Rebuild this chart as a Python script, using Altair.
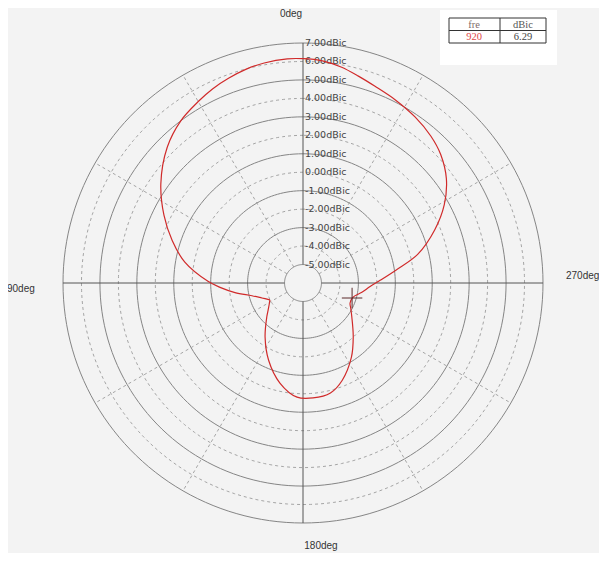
import altair as alt
import numpy as np
import pandas as pd

# ---- data ----
# angle in degrees, 0deg at top, increasing counter-clockwise (90deg on the left)
angles = [0, 4, 10, 15, 20, 25, 30, 37, 45, 55, 64, 72, 80, 89, 93, 98, 104, 110, 117,
          123, 128, 133, 145, 156, 167, 177, 185, 194, 202, 213, 223, 235, 242, 247,
          254, 261, 267, 272, 278, 284, 292, 299, 306, 313, 319, 326, 333, 340, 345,
          350, 355]
gains = [6.15, 6.17, 6.1, 5.98, 5.8, 5.6, 5.35, 5.0, 4.4, 3.4, 2.38, 1.45, 0.5, -0.85,
         -1.5, -2.28, -3.15, -3.63, -3.99, -3.81, -3.6, -3.32, -2.42, -1.42, -0.44, 0.19,
         0.25, 0.14, -0.32, -1.19, -2.01, -2.77, -3.07, -3.23, -3.19, -2.77, -2.36, -1.82,
         -0.9, 0.4, 1.7, 2.75, 3.6, 4.2, 4.55, 4.85, 5.1, 5.35, 5.6, 5.88, 6.08]

levels = [-5, -4, -3, -2, -1, 0, 1, 2, 3, 4, 5, 6, 7]
level_labels = ["-5.00dBic", "-4.00dBic", "-3.00dBic", "-2.00dBic", "-1.00dBic",
                "0.00dBic", "1.00dBic", "2.00dBic", "3.00dBic", "4.00dBic",
                "5.00dBic", "6.00dBic", "7.00dBic"]
spoke_angles = [30, 60, 120, 150, 210, 240, 300, 330]
axis_angles = [0, 90, 180, 270]
dir_labels = ["0deg", "90deg", "180deg", "270deg"]
legend_header = ["fre", "dBic"]
legend_values = ["920", "6.29"]
marker_angle = [253]
marker_gain = [-3.22]

R_MIN = -6.0
R_OUT = 13.0
START = 117  # the sharp corner of the pattern: start/close the loop there


def to_xy(ang, g):
    r = np.asarray(g, dtype=float) - R_MIN
    t = np.deg2rad(np.asarray(ang, dtype=float))
    return -r * np.sin(t), r * np.cos(t)


# pattern, ordered starting at the corner and closed back onto it
pat = pd.DataFrame({"angle": angles, "gain": gains})
pat["order"] = (pat["angle"] - START) % 360
pat = pat.sort_values("order").reset_index(drop=True)
closing = pat.iloc[[0]].copy()
closing["order"] = 360
pat = pd.concat([pat, closing], ignore_index=True)
pat["x"], pat["y"] = to_xy(pat["angle"], pat["gain"])

# grid circles
rows = []
for lv in levels:
    th = np.arange(0, 362, 2)
    cx, cy = to_xy(th, [lv] * len(th))
    for i, (a, b) in enumerate(zip(cx, cy)):
        rows.append({"level": lv, "i": i, "x": a, "y": b, "solid": (lv % 2 == 1)})
circles = pd.DataFrame(rows)

# spokes and axes
sx1, sy1 = to_xy(spoke_angles, [levels[0]] * len(spoke_angles))
sx2, sy2 = to_xy(spoke_angles, [levels[-1]] * len(spoke_angles))
spokes = pd.DataFrame({"x": sx1, "y": sy1, "x2": sx2, "y2": sy2})
ax1, ay1 = to_xy(axis_angles, [levels[0]] * 4)
ax2, ay2 = to_xy(axis_angles, [levels[-1]] * 4)
axes_df = pd.DataFrame({"x": ax1, "y": ay1, "x2": ax2, "y2": ay2})

labels_df = pd.DataFrame({"x": [0.0] * len(levels), "y": [lv - R_MIN for lv in levels], "t": level_labels})

mx, my = to_xy(marker_angle, marker_gain)
marker = pd.DataFrame({"x": mx, "y": my})

sc = alt.Scale(domain=[-R_OUT, R_OUT], nice=False, zero=False)
X = lambda f="x": alt.X(f + ":Q", scale=sc, axis=None)
Y = lambda f="y": alt.Y(f + ":Q", scale=sc, axis=None)

solid_c = alt.Chart(circles[circles.solid]).mark_line(color="#858585", strokeWidth=1).encode(
    x=X(), y=Y(), detail="level:N", order="i:Q")
dash_c = alt.Chart(circles[~circles.solid]).mark_line(color="#a5a5a5", strokeWidth=1, strokeDash=[3, 3]).encode(
    x=X(), y=Y(), detail="level:N", order="i:Q")
spoke_l = alt.Chart(spokes).mark_rule(color="#a5a5a5", strokeWidth=1, strokeDash=[3, 3]).encode(
    x=X(), y=Y(), x2="x2:Q", y2="y2:Q")
axis_l = alt.Chart(axes_df).mark_rule(color="#555555", strokeWidth=1).encode(
    x=X(), y=Y(), x2="x2:Q", y2="y2:Q")
rad_labels = alt.Chart(labels_df).mark_text(align="left", baseline="middle", dx=2, fontSize=9.5,
                                            font="DejaVu Sans", color="#444444").encode(
    x=X(), y=Y(), text="t:N")
curve = alt.Chart(pat).mark_line(color="#d02a2a", strokeWidth=1.2, interpolate="catmull-rom").encode(
    x=X(), y=Y(), order="order:Q")
cross = alt.Chart(marker).mark_point(shape="M-1,0L1,0M0,-1L0,1", size=420, filled=False,
                                     color="#5a2a2a", strokeWidth=1, opacity=1).encode(x=X(), y=Y())

dfont = dict(font="Liberation Sans", fontSize=10, color="#333333", baseline="middle")
d0 = alt.Chart().mark_text(text=dir_labels[0], align="center", **dfont).encode(x=alt.value(228), y=alt.value(-29))
d90 = alt.Chart().mark_text(text=dir_labels[1], align="left", **dfont).encode(x=alt.value(-56), y=alt.value(246))
d180 = alt.Chart().mark_text(text=dir_labels[2], align="center", **dfont).encode(x=alt.value(258), y=alt.value(503))
d270 = alt.Chart().mark_text(text=dir_labels[3], align="left", **dfont).encode(x=alt.value(503), y=alt.value(233))

# legend table (top right)
white = alt.Chart().mark_rect(color="white").encode(
    x=alt.value(377), x2=alt.value(494), y=alt.value(-33), y2=alt.value(22))
tbox = alt.Chart().mark_rect(fill="white", stroke="#333333", strokeWidth=1).encode(
    x=alt.value(386), x2=alt.value(483), y=alt.value(-25), y2=alt.value(0))
tline_h = alt.Chart().mark_rule(color="#333333", strokeWidth=1).encode(
    x=alt.value(386), x2=alt.value(483), y=alt.value(-12.5))
tline_v = alt.Chart().mark_rule(color="#333333", strokeWidth=1).encode(
    x=alt.value(437), y=alt.value(-25), y2=alt.value(0))
tf = dict(font="Liberation Serif", fontSize=10.5, align="center", baseline="middle")
t1 = alt.Chart().mark_text(text=legend_header[0], color="#806a6a", **tf).encode(x=alt.value(411), y=alt.value(-18.5))
t2 = alt.Chart().mark_text(text=legend_header[1], color="#555555", **tf).encode(x=alt.value(460), y=alt.value(-18.5))
t3 = alt.Chart().mark_text(text=legend_values[0], color="#e04848", **tf).encode(x=alt.value(411), y=alt.value(-6))
t4 = alt.Chart().mark_text(text=legend_values[1], color="#444444", **tf).encode(x=alt.value(460), y=alt.value(-6))

chart = alt.layer(
    solid_c, dash_c, spoke_l, axis_l, rad_labels, curve, cross,
    d0, d90, d180, d270, white, tbox, tline_h, tline_v, t1, t2, t3, t4
).properties(
    width=480, height=480,
    padding={"left": 55, "top": 35, "right": 56, "bottom": 30},
    autosize=alt.AutoSizeParams(type="none"),
    background="#f3f3f3",
).configure_view(stroke=None)

chart.save("out.html", embed_options={"renderer": "svg", "actions": False})
